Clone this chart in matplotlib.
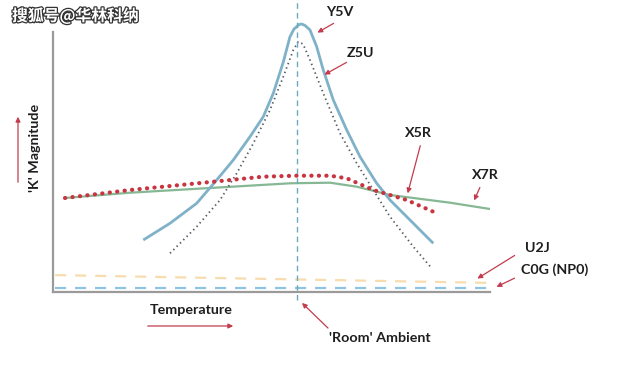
import matplotlib
matplotlib.use("Agg")
import matplotlib.pyplot as plt
import matplotlib.patheffects as pe

# ---- data (temperature index 0..100, relative K magnitude) ----
y5v_t = [20.66, 26.77, 32.88, 37.46, 41.26, 45.08, 48.12, 50.41, 52.70, 54.23, 55.15,
         55.77, 56.29, 56.91, 57.67, 58.81, 60.34, 61.85, 64.14, 67.21, 70.25, 74.07,
         77.12, 82.45, 87.02]
y5v_k = [20.0, 26.42, 34.12, 43.08, 50.77, 59.73, 67.42, 76.42, 88.46, 98.19, 101.15,
         102.04, 102.88, 103.08, 102.5, 100.77, 94.35, 85.38, 73.85, 62.31, 52.04, 41.81,
         35.38, 26.42, 18.73]

z5u_t = [26.77, 32.88, 38.22, 42.04, 45.84, 49.66, 52.70, 54.99, 56.13, 57.21, 58.81,
         61.85, 65.68, 69.50, 73.30, 77.12, 82.45, 86.66]
z5u_k = [14.88, 25.12, 35.38, 45.65, 57.19, 70.0, 82.81, 93.08, 96.27, 95.38, 89.23,
         76.42, 61.04, 49.5, 39.23, 28.96, 17.42, 9.12]

x5r_t = [2.75, 17.62, 36.68, 48.05, 55.6, 63.39, 67.21, 73.30, 80.94, 87.02]
x5r_k = [36.15, 39.23, 42.42, 44.35, 44.73, 44.73, 43.73, 39.23, 35.38, 30.88]

x7r_t = [2.75, 17.62, 54.23, 63.39, 69.5, 77.12, 90.85, 100.0]
x7r_k = [36.15, 38.19, 41.81, 42.04, 40.5, 37.31, 34.35, 31.92]

u2j_t = [0.5, 50.0, 100.0]
u2j_k = [6.5, 5.0, 3.5]

c0g_t = [0.5, 100.0]
c0g_k = [1.5, 1.5]

room_t = 55.8

W, H = 625, 365
fig = plt.figure(figsize=(W / 100, H / 100), dpi=100)
ax = fig.add_axes([53 / W, 1 - 292 / H, (490 - 53) / W, (292 - 15) / H])
ax.set_xlim(0, 100)
ax.set_ylim(0, (292 - 15) / 2.6)
for s in ["top", "right"]:
    ax.spines[s].set_visible(False)
for s in ["left", "bottom"]:
    ax.spines[s].set_color("#9a9a9a")
    ax.spines[s].set_linewidth(1.6)
ax.spines["left"].set_bounds(0, 100)
ax.set_xticks([])
ax.set_yticks([])

blue = "#7fb2c9"
ax.plot(c0g_t, c0g_k, color="#8cc4e2", lw=1.6, ls=(0, (5, 4)))
ax.plot(u2j_t, u2j_k, color="#f6dcae", lw=1.6, ls=(0, (5, 4)))
ax.plot(x7r_t, x7r_k, color="#86b894", lw=1.6)
ax.plot(y5v_t, y5v_k, color=blue, lw=2.0, solid_capstyle="butt",
        solid_joinstyle="round", clip_on=False)
ax.plot(z5u_t, z5u_k, color="#555c66", lw=1.3, ls=(0, (0.8, 1.8)), clip_on=False)
ax.plot(x5r_t, x5r_k, color="#c8343f", lw=3.0, ls=(0, (0.05, 1.75)),
        dash_capstyle="round", clip_on=False)
ax.plot([room_t, room_t], [-3.1, 112.3], color="#6aa9c0", lw=1.0,
        ls=(0, (4, 3)), clip_on=False)


def P(px, py):
    return (px / W, 1 - py / H)


red = "#c33b4c"
font = dict(family="Lato", weight="bold", color="#1e1e1e", fontsize=10.3)


def arrow(sx, sy, ex, ey):
    fig.add_artist(matplotlib.patches.FancyArrowPatch(
        P(sx, sy), P(ex, ey), transform=fig.transFigure,
        arrowstyle="-|>", mutation_scale=7, color=red, lw=0.9))


def label(txt, tx, ty, ex, ey, sx, sy, ha="center"):
    fig.text(*P(tx, ty), txt, ha=ha, va="center", **font)
    arrow(sx, sy, ex, ey)


label("Y5V", 340, 12, 315, 34, 336, 22)
label("Z5U", 360, 53, 322, 76, 349, 61)
label("X5R", 418, 133, 407, 196, 421, 143)
label("X7R", 485, 175, 473, 203, 481, 185)
label("U2J", 537, 248, 475, 280, 517, 254)
label("C0G (NP0)", 521, 270, 494, 288, 517, 277, ha="left")
label("'Room' Ambient", 380, 338, 300, 301, 330, 330)

fig.text(*P(191, 310), "Temperature", ha="center", va="center", **font)
arrow(145, 326, 236, 326)

fig.text(*P(35, 148), "'K' Magnitude", ha="center", va="center", rotation=90, **font)
arrow(18, 185, 18, 114)

wm = fig.text(*P(12, 16), "搜狐号@华林科纳", ha="left", va="center",
              fontsize=11.4, weight="bold", color="white",
              family=["Noto Sans CJK SC", "DejaVu Sans"])
wm.set_path_effects([pe.withStroke(linewidth=1.8, foreground="#333333")])

fig.savefig("out.png", dpi=100)
